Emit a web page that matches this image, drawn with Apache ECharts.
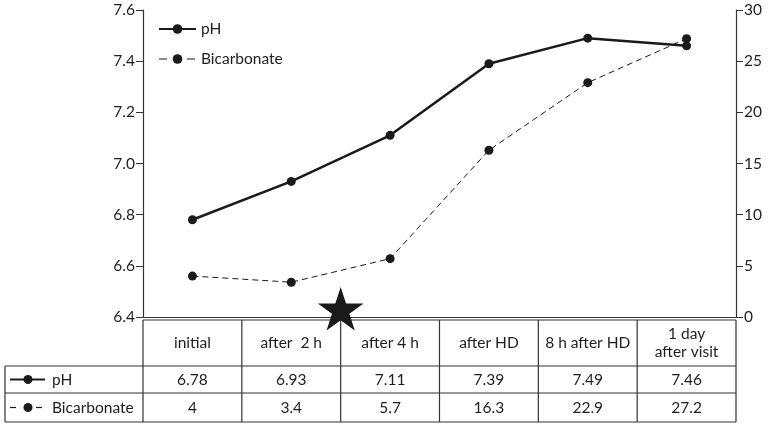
<!DOCTYPE html>
<html>
<head>
<meta charset="utf-8">
<script src="https://cdn.jsdelivr.net/npm/echarts@6/dist/echarts.min.js"></script>
<style>
  html, body { margin: 0; padding: 0; background: #fff; }
  #chart { width: 774px; height: 425px; }
</style>
</head>
<body>
<div id="chart"></div>
<script>
// data
const categories = ['initial', 'after  2 h', 'after 4 h', 'after HD', '8 h after HD', '1 day\nafter visit']
const phValues = [6.78, 6.93, 7.11, 7.39, 7.49, 7.46]
const bicarbonateValues = [4, 3.4, 5.7, 16.3, 22.9, 27.2]
const phAxis = { min: 6.4, max: 7.6, interval: 0.2 }
const bicarbAxis = { min: 0, max: 30, interval: 5 }
const starBetween = [1, 2] // star sits between these two columns

const FONT = 'Lato'
const FSIZE = 15.5
const INK = '#1a1a1a'
const AXIS = '#333'
const TXT = '#1e1e1e'

const chart = echarts.init(document.getElementById('chart'))

const option = {
  animation: false,
  grid: { left: 143, right: 38, top: 10, bottom: 108 },
  legend: {
    orient: 'vertical',
    left: 153,
    top: 16,
    itemWidth: 37,
    itemHeight: 12,
    itemGap: 14,
    textStyle: { fontFamily: FONT, fontSize: FSIZE, color: TXT },
    data: [
      { name: 'pH' },
      { name: 'Bicarbonate', lineStyle: { type: [8, 6], width: 1.2 } }
    ]
  },
  xAxis: {
    type: 'category',
    data: categories,
    boundaryGap: true,
    axisLine: { lineStyle: { color: AXIS, width: 1.2 } },
    axisTick: { show: false },
    axisLabel: { show: false }
  },
  yAxis: [
    {
      type: 'value',
      min: phAxis.min,
      max: phAxis.max,
      interval: phAxis.interval,
      axisLine: { show: true, lineStyle: { color: AXIS, width: 1.2 } },
      axisTick: { show: true, length: 7, lineStyle: { color: AXIS } },
      splitLine: { show: false },
      axisLabel: {
        margin: 8,
        fontFamily: FONT,
        fontSize: FSIZE,
        color: TXT,
        formatter: v => v.toFixed(1)
      }
    },
    {
      type: 'value',
      position: 'right',
      min: bicarbAxis.min,
      max: bicarbAxis.max,
      interval: bicarbAxis.interval,
      axisLine: { show: true, lineStyle: { color: AXIS, width: 1.2 } },
      axisTick: { show: true, length: 7, lineStyle: { color: AXIS } },
      splitLine: { show: false },
      axisLabel: { margin: 8, fontFamily: FONT, fontSize: FSIZE, color: TXT }
    }
  ],
  series: [
    {
      name: 'pH',
      type: 'line',
      yAxisIndex: 0,
      data: phValues,
      symbol: 'circle',
      symbolSize: 9,
      itemStyle: { color: INK },
      lineStyle: { color: INK, width: 2.5 }
    },
    {
      name: 'Bicarbonate',
      type: 'line',
      yAxisIndex: 1,
      data: bicarbonateValues,
      symbol: 'circle',
      symbolSize: 9,
      itemStyle: { color: INK },
      lineStyle: { color: INK, width: 1, type: [6, 4] }
    }
  ]
}

chart.setOption(option)

// table + star drawn under the plot, positioned from the axes
function buildGraphics() {
  const px = i => chart.convertToPixel({ xAxisIndex: 0 }, i)
  const colW = px(1) - px(0)
  const left = px(0) - colW / 2
  const right = left + colW * categories.length
  const axisY = chart.convertToPixel({ yAxisIndex: 0 }, phAxis.min)
  const top = axisY + 3
  const rowY = [top, top + 46, top + 73, top + 102]
  const labelLeft = 5
  const els = []
  const line = (x1, y1, x2, y2, extra) => els.push(Object.assign({
    type: 'line',
    shape: { x1, y1, x2, y2 },
    style: { stroke: AXIS, lineWidth: 1.2 },
    silent: true
  }, extra || {}))
  const text = (x, y, s, align) => els.push({
    type: 'text',
    x, y,
    style: {
      text: s,
      fill: TXT,
      font: FSIZE + 'px "' + FONT + '"',
      align: align || 'center',
      verticalAlign: 'middle',
      lineHeight: 18
    },
    silent: true
  })

  // horizontal rules
  line(left, rowY[0], right, rowY[0])
  for (let r = 1; r < rowY.length; r++) line(labelLeft, rowY[r], right, rowY[r])
  // vertical rules
  for (let c = 0; c <= categories.length; c++) {
    const x = left + c * colW
    line(x, rowY[0], x, rowY[3])
  }
  line(labelLeft, rowY[1], labelLeft, rowY[3])

  // cells
  categories.forEach((cat, i) => {
    const cx = px(i)
    text(cx, (rowY[0] + rowY[1]) / 2, cat)
    text(cx, (rowY[1] + rowY[2]) / 2, String(phValues[i]))
    text(cx, (rowY[2] + rowY[3]) / 2, String(bicarbonateValues[i]))
  })

  // row labels with mini legend keys
  const keyStyle = w => ({ style: { stroke: INK, lineWidth: w } })
  const phY = (rowY[1] + rowY[2]) / 2
  const bicY = (rowY[2] + rowY[3]) / 2
  line(10, phY, 45, phY, keyStyle(2.2))
  line(10, bicY, 16, bicY, keyStyle(1.2))
  line(36, bicY, 42, bicY, keyStyle(1.2))
  ;[phY, bicY].forEach(y => {
    els.push({ type: 'circle', shape: { cx: 28, cy: y, r: 4.5 }, style: { fill: INK }, silent: true })
  })
  text(52, phY, 'pH', 'left')
  text(52, bicY, 'Bicarbonate', 'left')

  // star marker between two columns at the time axis
  const sx = (px(starBetween[0]) + px(starBetween[1])) / 2
  const R = 24
  const rIn = R * 0.382
  const cy = axisY - 6
  const pts = []
  for (let k = 0; k < 10; k++) {
    const a = -Math.PI / 2 + k * Math.PI / 5
    const rad = k % 2 === 0 ? R : rIn
    pts.push([sx + rad * Math.cos(a), cy + rad * Math.sin(a)])
  }
  els.push({ type: 'polygon', shape: { points: pts }, style: { fill: INK }, z: 100, silent: true })

  chart.setOption({ graphic: { elements: els } })
}

buildGraphics()
</script>
</body>
</html>
